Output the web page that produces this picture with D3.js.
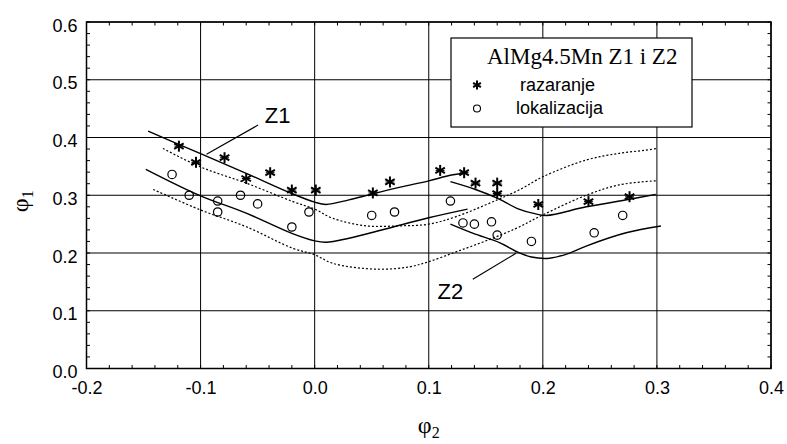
<!DOCTYPE html>
<html><head><meta charset="utf-8">
<script src="https://cdn.jsdelivr.net/npm/d3@7/dist/d3.min.js"></script>
<style>body{margin:0;background:#fff}svg{display:block}</style>
</head><body><svg id="c" width="787" height="444"></svg>
<script>
const xTicks = [-0.2,-0.1,0.0,0.1,0.2,0.3,0.4];
const yTicks = [0.0,0.1,0.2,0.3,0.4,0.5,0.6];
const razaranje = [[-0.119,0.385],[-0.104,0.357],[-0.079,0.365],[-0.060,0.329],[-0.039,0.339],[-0.020,0.309],[0.001,0.309],[0.051,0.304],[0.066,0.323],[0.110,0.343],[0.131,0.339],[0.141,0.321],[0.160,0.321],[0.160,0.303],[0.196,0.284],[0.240,0.289],[0.276,0.2975]];
const lokalizacija = [[-0.125,0.336],[-0.110,0.300],[-0.085,0.290],[-0.085,0.271],[-0.065,0.300],[-0.050,0.285],[-0.020,0.245],[-0.005,0.271],[0.050,0.265],[0.070,0.271],[0.119,0.290],[0.130,0.252],[0.140,0.250],[0.155,0.254],[0.160,0.231],[0.190,0.220],[0.245,0.235],[0.270,0.265]];
const z1Upper = [[-0.146,0.411],[-0.1,0.372],[-0.06,0.338],[-0.02,0.303],[0.0,0.288],[0.01,0.284],[0.03,0.292],[0.05,0.302],[0.075,0.314],[0.1,0.325],[0.12,0.335],[0.134,0.339]];
const z1Lower = [[-0.148,0.345],[-0.1,0.299],[-0.06,0.269],[-0.02,0.234],[0.0,0.221],[0.01,0.2185],[0.03,0.2255],[0.063,0.242],[0.1,0.261],[0.134,0.276]];
const dotUpper = [[-0.133,0.381],[-0.1,0.349],[-0.06,0.321],[-0.019,0.289],[0.0,0.276],[0.016,0.260],[0.045,0.247],[0.074,0.247],[0.1,0.250],[0.124,0.263],[0.16,0.292],[0.18,0.310],[0.2,0.332],[0.238,0.361],[0.267,0.3726],[0.29,0.378],[0.3,0.381]];
const dotLower = [[-0.1415,0.310],[-0.1,0.2745],[-0.06,0.2455],[-0.019,0.208],[0.0,0.197],[0.016,0.182],[0.054,0.172],[0.083,0.176],[0.1,0.185],[0.124,0.202],[0.15,0.221],[0.177,0.243],[0.2,0.266],[0.238,0.300],[0.267,0.318],[0.299,0.325]];
const z2Upper = [[0.119,0.3235],[0.141,0.310],[0.160,0.295],[0.179,0.276],[0.191,0.269],[0.203,0.265],[0.238,0.280],[0.276,0.293],[0.299,0.3016]];
const z2Lower = [[0.119,0.250],[0.139,0.234],[0.162,0.218],[0.179,0.2005],[0.19,0.193],[0.206,0.191],[0.223,0.1995],[0.238,0.212],[0.273,0.235],[0.3035,0.2467]];
const labelZ1 = {text:"Z1", at:[-0.0438,0.425], line:[[-0.0496,0.4216],[-0.0948,0.371]]};
const labelZ2 = {text:"Z2", at:[0.1077,0.120], line:[[0.1386,0.1545],[0.1765,0.1995]]};
const legendTitle = "AlMg4.5Mn Z1 i Z2";
const legendItems = ["razaranje","lokalizacija"];

const svg = d3.select("#c");
const L=86.5,R=771,T=22,B=368.5;
const x = d3.scaleLinear().domain([-0.2,0.4]).range([L,R]);
const y = d3.scaleLinear().domain([0,0.6]).range([B,T]);
const fmt = d => d.toFixed(1);

// grid
const g = svg.append("g");
g.selectAll(".gx").data(xTicks).enter().append("line")
 .attr("x1",d=>x(d)).attr("x2",d=>x(d)).attr("y1",T).attr("y2",B).attr("stroke","#000").attr("stroke-width",1);
g.selectAll(".gy").data(yTicks).enter().append("line")
 .attr("y1",d=>y(d)).attr("y2",d=>y(d)).attr("x1",L).attr("x2",R).attr("stroke","#000").attr("stroke-width",1);

// minor ticks
const minorX = d3.range(-0.2,0.4001,0.02);
const minorY = d3.range(0,0.6001,0.02);
const tl=3.5;
minorX.forEach(v=>{
  g.append("line").attr("x1",x(v)).attr("x2",x(v)).attr("y1",B).attr("y2",B-tl).attr("stroke","#000");
  g.append("line").attr("x1",x(v)).attr("x2",x(v)).attr("y1",T).attr("y2",T+tl).attr("stroke","#000");
});
minorY.forEach(v=>{
  g.append("line").attr("y1",y(v)).attr("y2",y(v)).attr("x1",L).attr("x2",L+tl).attr("stroke","#000");
  g.append("line").attr("y1",y(v)).attr("y2",y(v)).attr("x1",R).attr("x2",R-tl).attr("stroke","#000");
});

// axes labels via d3 axes
const xAxis = d3.axisBottom(x).tickValues(xTicks).tickSize(0).tickPadding(14).tickFormat(fmt);
const yAxis = d3.axisLeft(y).tickValues(yTicks).tickSize(0).tickPadding(9).tickFormat(fmt);
const gx = svg.append("g").attr("transform",`translate(0,${B})`).call(xAxis);
const gy = svg.append("g").attr("transform",`translate(${L},0)`).call(yAxis);
[gx,gy].forEach(a=>{a.select(".domain").remove();
  a.selectAll("text").attr("font-family","Liberation Sans, Arial, sans-serif").attr("font-size",18).attr("fill","#000");});
gy.selectAll("text").attr("dy","0.5em");
gx.selectAll("text").attr("dy","0.71em").attr("y",13);

svg.append("rect").attr("x",L).attr("y",T).attr("width",R-L).attr("height",B-T)
 .attr("fill","none").attr("stroke","#000").attr("stroke-width",1.5);

// curves
const line = d3.line().x(d=>x(d[0])).y(d=>y(d[1])).curve(d3.curveCatmullRom.alpha(0.5));
const curves = [
 {d:z1Upper,dash:null},{d:z1Lower,dash:null},{d:z2Upper,dash:null},{d:z2Lower,dash:null},
 {d:dotUpper,dash:"2,2"},{d:dotLower,dash:"2,2"}];
curves.forEach(c=>{
  svg.append("path").attr("d",line(c.d)).attr("fill","none").attr("stroke","#000")
   .attr("stroke-width",c.dash?1.2:1.4).attr("stroke-dasharray",c.dash);
});

// markers
function star(sel,cx,cy,r){
  const gg=sel.append("g").attr("transform",`translate(${cx},${cy})`);
  [90,30,-30].forEach(a=>{
    const rad=a*Math.PI/180;
    gg.append("line").attr("x1",-r*Math.cos(rad)).attr("y1",-r*Math.sin(rad))
      .attr("x2",r*Math.cos(rad)).attr("y2",r*Math.sin(rad)).attr("stroke","#000").attr("stroke-width",2);
  });
  gg.append("line").attr("x1",-r*0.8).attr("x2",r*0.8).attr("y1",0).attr("y2",0).attr("stroke","#000").attr("stroke-width",1);
}
razaranje.forEach(p=>star(svg,x(p[0]),y(p[1]),5.5));
svg.selectAll(".ci").data(lokalizacija).enter().append("circle")
 .attr("cx",d=>x(d[0])).attr("cy",d=>y(d[1])).attr("r",4.2)
 .attr("fill","none").attr("stroke","#000").attr("stroke-width",1.2);

// annotations
[labelZ1,labelZ2].forEach(lb=>{
  svg.append("line").attr("x1",x(lb.line[0][0])).attr("y1",y(lb.line[0][1]))
   .attr("x2",x(lb.line[1][0])).attr("y2",y(lb.line[1][1])).attr("stroke","#000").attr("stroke-width",1.2);
  svg.append("text").attr("x",x(lb.at[0])).attr("y",y(lb.at[1])).text(lb.text)
   .attr("font-family","Liberation Sans, Arial, sans-serif").attr("font-size",22).attr("fill","#000");
});

// legend
const lg = svg.append("g");
lg.append("rect").attr("x",451).attr("y",38).attr("width",241).attr("height",89)
 .attr("fill","#fff").attr("stroke","#000").attr("stroke-width",1.2);
lg.append("text").attr("x",487).attr("y",63.5).text(legendTitle)
 .attr("font-family","Liberation Serif, Times New Roman, serif").attr("font-size",23).attr("fill","#000");
star(lg,477,85,4.5);
lg.append("circle").attr("cx",477).attr("cy",108.5).attr("r",3.5).attr("fill","none").attr("stroke","#000").attr("stroke-width",1.1);
legendItems.forEach((t,i)=>{
  lg.append("text").attr("x",i===0?520:516).attr("y",91+i*23).text(t)
   .attr("font-family","Liberation Sans, Arial, sans-serif").attr("font-size",18).attr("fill","#000");
});

// axis titles
const ax = svg.append("text").attr("x",(L+R)/2).attr("y",433).attr("text-anchor","middle")
 .attr("font-family","Liberation Serif, Times New Roman, serif").attr("font-size",24).attr("fill","#000");
ax.append("tspan").text("φ");
ax.append("tspan").text("2").attr("font-size",16).attr("dy",5);
const ay = svg.append("text").attr("transform",`translate(28,${(T+B)/2+6}) rotate(-90)`).attr("text-anchor","middle")
 .attr("font-family","Liberation Serif, Times New Roman, serif").attr("font-size",24).attr("fill","#000");
ay.append("tspan").text("φ");
ay.append("tspan").text("1").attr("font-size",16).attr("dy",5);
</script></body></html>
